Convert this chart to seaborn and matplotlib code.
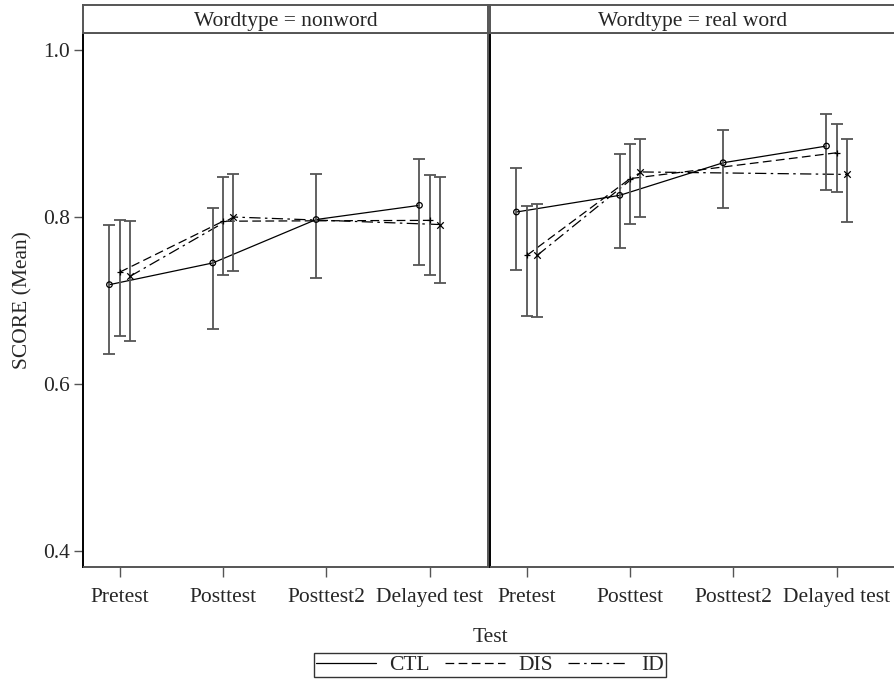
import numpy as np
import pandas as pd
import matplotlib
matplotlib.use("Agg")
import matplotlib.pyplot as plt
from matplotlib.lines import Line2D
import seaborn as sns

# ---------------- data ----------------
tests = ["Pretest", "Posttest", "Posttest2", "Delayed test"]
groups = ["CTL", "DIS", "ID"]
panels = ["nonword", "real word"]

# nonword panel (NaN = not measured)
nw_ctl_mean = [0.719, 0.745, 0.797, 0.814]
nw_ctl_lo   = [0.636, 0.666, 0.727, 0.742]
nw_ctl_hi   = [0.790, 0.811, 0.852, 0.870]
nw_dis_mean = [0.734, 0.795, np.nan, 0.796]
nw_dis_lo   = [0.658, 0.731, np.nan, 0.730]
nw_dis_hi   = [0.797, 0.848, np.nan, 0.850]
nw_id_mean  = [0.729, 0.800, np.nan, 0.791]
nw_id_lo    = [0.652, 0.735, np.nan, 0.721]
nw_id_hi    = [0.795, 0.852, np.nan, 0.848]

# real word panel
rw_ctl_mean = [0.806, 0.826, 0.865, 0.885]
rw_ctl_lo   = [0.737, 0.763, 0.811, 0.832]
rw_ctl_hi   = [0.859, 0.876, 0.904, 0.923]
rw_dis_mean = [0.754, 0.846, np.nan, 0.877]
rw_dis_lo   = [0.681, 0.792, np.nan, 0.830]
rw_dis_hi   = [0.813, 0.888, np.nan, 0.912]
rw_id_mean  = [0.754, 0.854, np.nan, 0.851]
rw_id_lo    = [0.680, 0.800, np.nan, 0.794]
rw_id_hi    = [0.815, 0.894, np.nan, 0.893]

y_ticks = [0.4, 0.6, 0.8, 1.0]

series = {
    ("nonword", "CTL"): (nw_ctl_mean, nw_ctl_lo, nw_ctl_hi),
    ("nonword", "DIS"): (nw_dis_mean, nw_dis_lo, nw_dis_hi),
    ("nonword", "ID"): (nw_id_mean, nw_id_lo, nw_id_hi),
    ("real word", "CTL"): (rw_ctl_mean, rw_ctl_lo, rw_ctl_hi),
    ("real word", "DIS"): (rw_dis_mean, rw_dis_lo, rw_dis_hi),
    ("real word", "ID"): (rw_id_mean, rw_id_lo, rw_id_hi),
}

dodge = {"CTL": -0.1, "DIS": 0.0, "ID": 0.1}
rows = []
for (panel, grp), (m, lo, hi) in series.items():
    for i, t in enumerate(tests):
        if np.isnan(m[i]):
            continue
        rows.append(dict(Wordtype=panel, Group=grp, Test=t,
                         x=i + dodge[grp], mean=m[i], lo=lo[i], hi=hi[i]))
df = pd.DataFrame(rows)

# ---------------- style ----------------
sns.set_theme(style="white")
plt.rcParams["font.family"] = ["Liberation Serif", "DejaVu Serif"]
plt.rcParams["axes.linewidth"] = 1.4

FS = 15.5
frame_col = "#555555"
dashes = {"CTL": "", "DIS": (7, 3.5), "ID": (9, 3.5, 2, 3.5)}
markers = {"CTL": "o", "DIS": "+", "ID": "x"}

fig = plt.figure(figsize=(8.95, 6.85), dpi=100)
W, H = 895.0, 685.0
ax_bottom = 1 - 566.7 / H
ax_top = 1 - 33.0 / H
ax_h = ax_top - ax_bottom
lefts = [83.5, 490.5]
width = 404.0

axes = []
for k, panel in enumerate(panels):
    ax = fig.add_axes([lefts[k] / W, ax_bottom, width / W, ax_h])
    axes.append(ax)
    sub = df[df.Wordtype == panel]
    sns.lineplot(data=sub, x="x", y="mean", style="Group", units="Group",
                 estimator=None, dashes=dashes, color="black", lw=0.9,
                 legend=False, sort=True, ax=ax, style_order=groups)
    for grp in groups:
        g = sub[sub.Group == grp]
        ax.errorbar(g["x"], g["mean"], yerr=[g["mean"] - g["lo"], g["hi"] - g["mean"]],
                    fmt="none", ecolor="#555555", elinewidth=1.3, capsize=4.2,
                    capthick=1.3, zorder=2)
        if markers[grp] == "o":
            ax.scatter(g["x"], g["mean"], s=16, marker="o", facecolors="none",
                       edgecolors="black", linewidths=0.9, zorder=4)
        else:
            ax.scatter(g["x"], g["mean"], s=22, marker=markers[grp],
                       color="black", linewidths=0.9, zorder=4)
    ax.set_xlim(-0.351, 3.558)
    ax.set_ylim(0.3812, 1.0204)
    ax.set_xticks(range(len(tests)))
    ax.set_xticklabels(tests, fontsize=FS)
    ax.set_xlabel("")
    ax.set_ylabel("")
    for s in ax.spines.values():
        s.set_color(frame_col)
        s.set_linewidth(1.4)
    ax.spines["left"].set_color("black")
    ax.tick_params(axis="x", direction="out", length=7.5, width=1.0,
                   color=frame_col, pad=8, labelsize=FS, bottom=True)
    if k == 0:
        ax.set_yticks(y_ticks)
        ax.set_yticklabels([f"{v:.1f}" for v in y_ticks], fontsize=FS)
        ax.tick_params(axis="y", direction="out", length=6.5, width=1.0,
                       color=frame_col, pad=3, labelsize=FS, left=True)
        ax.set_ylabel("SCORE (Mean)", fontsize=FS, labelpad=8)
    else:
        ax.set_yticks([])
    ax.grid(False)

    # strip header
    hax = fig.add_axes([lefts[k] / W, 1 - 33.0 / H, width / W, 28.0 / H])
    hax.set_xticks([]); hax.set_yticks([])
    for s in hax.spines.values():
        s.set_color(frame_col)
        s.set_linewidth(1.4)
    hax.text(0.5, 0.42, f"Wordtype = {panel}", ha="center", va="center",
             fontsize=FS, transform=hax.transAxes)

fig.text(490 / W, 1 - 637 / H, "Test", ha="center", va="center", fontsize=FS)

handles = [Line2D([], [], color="black", lw=0.9, linestyle="-"),
           Line2D([], [], color="black", lw=0.9, dashes=(7, 3.5)),
           Line2D([], [], color="black", lw=0.9, dashes=(9, 3.5, 2, 3.5))]
leg = fig.legend(handles, groups, loc="center", bbox_to_anchor=(490 / W, 1 - 665 / H),
                 ncol=3, fontsize=FS, frameon=True, fancybox=False,
                 handlelength=2.8, handletextpad=0.6, columnspacing=0.7,
                 borderpad=0.1, borderaxespad=0)
leg.get_frame().set_edgecolor("black")
leg.get_frame().set_linewidth(1.0)

fig.savefig("out.png", dpi=100)
